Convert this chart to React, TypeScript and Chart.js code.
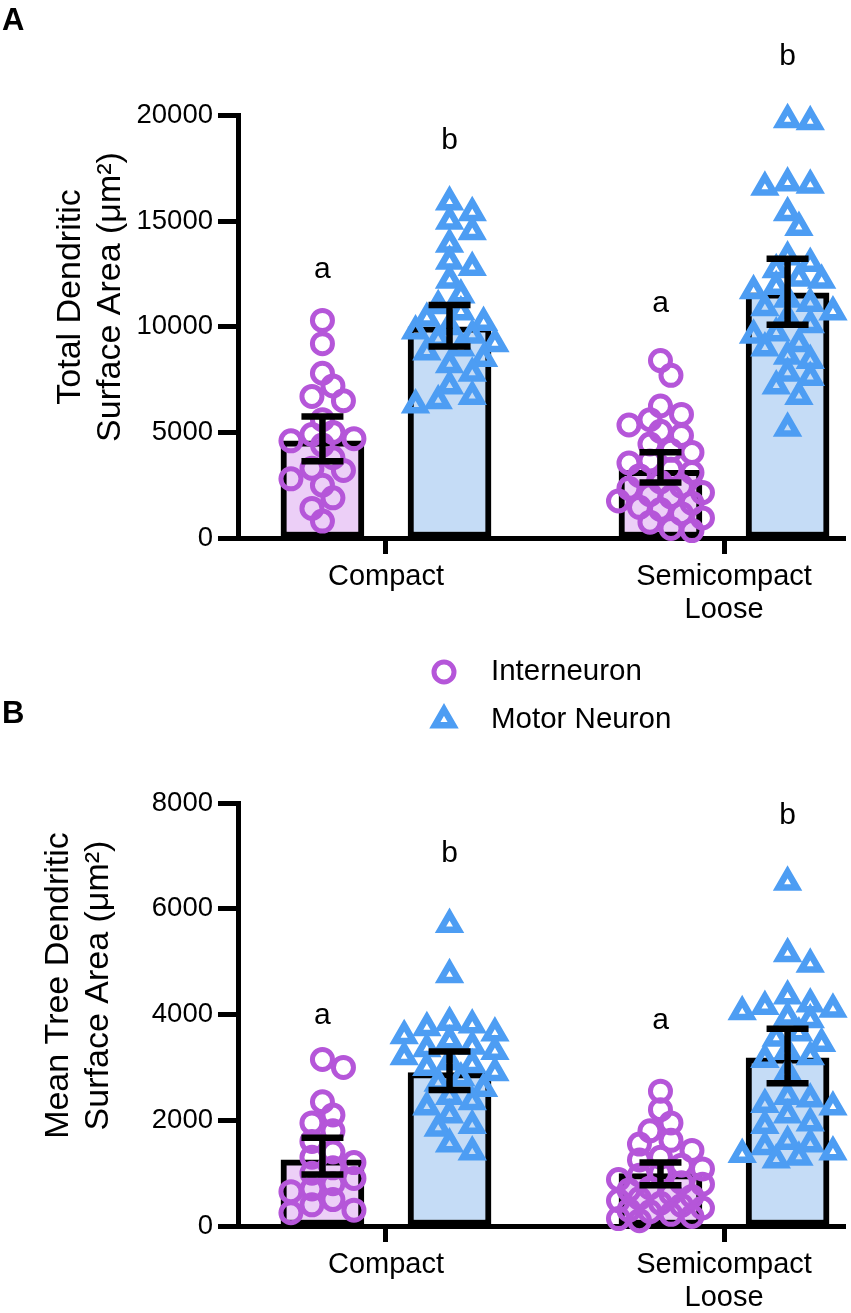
import React, { useEffect, useRef } from 'react';
import { Chart, registerables } from 'chart.js';

Chart.register(...registerables);

const FONT = "'Liberation Sans', Arial, Helvetica, sans-serif";
Chart.defaults.font.family = FONT;
Chart.defaults.color = '#000';

const PURPLE = '#B556D9';
const BLUE = '#4D9DF3';
const PURPLE_FILL = '#ECCFF7';
const BLUE_FILL = '#C5DCF6';

// ---------- shared categories ----------
const categories = ['Compact', 'Semicompact Loose'];
const categoryLabelLines = [['Compact'], ['Semicompact', 'Loose']];
const categoryPositions = [1, 2];
const seriesNames = ['Interneuron', 'Motor Neuron'];

// ---------- Panel A: Total Dendritic Surface Area ----------
const yTicksA = [0, 5000, 10000, 15000, 20000];
const totalInterCompact = [10300, 9200, 7800, 7200, 6700, 6500, 5600, 5000, 4900, 4700, 4600, 4400, 3800, 3300, 3200, 2800, 2500, 1900, 1400, 800];
const totalMotorCompact = [15900, 15400, 15000, 14500, 13900, 13100, 12800, 12200, 11500, 11000, 10700, 10400, 10200, 10000, 9800, 9600, 9400, 9200, 9000, 8800, 8500, 8200, 7800, 7200, 6700, 6500, 6300];
const totalInterSemi = [8400, 7700, 6250, 5850, 5600, 5350, 5050, 4850, 4450, 4150, 4050, 3650, 3550, 3250, 3100, 2950, 2650, 2450, 2350, 2150, 2050, 1950, 1750, 1650, 1450, 1350, 1150, 950, 750, 450, 350];
const totalMotorSemi = [19800, 19700, 16800, 16700, 16600, 15400, 14700, 13300, 13000, 12700, 12300, 12200, 11900, 11700, 11300, 11100, 10900, 10700, 10400, 10100, 9700, 9600, 9200, 9000, 8600, 8400, 7800, 7600, 7200, 6700, 5200];
const totalInterBar = [4600, 3200];
const totalMotorBar = [10000, 11600];
const totalInterErrLow = [3630, 2630];
const totalInterErrHigh = [5750, 4060];
const totalMotorErrLow = [9070, 10100];
const totalMotorErrHigh = [11030, 13220];
const totalLetters = ['a', 'b', 'a', 'b'];
const totalLetterY = [12700, 18800, 11100, 22800];

// ---------- Panel B: Mean Tree Dendritic Surface Area ----------
const yTicksB = [0, 2000, 4000, 6000, 8000];
const meanInterCompact = [3150, 3000, 2350, 2100, 1950, 1800, 1600, 1400, 1300, 1200, 1100, 1000, 900, 800, 700, 650, 500, 400, 300, 250];
const meanMotorCompact = [5700, 4750, 3850, 3800, 3750, 3650, 3600, 3500, 3400, 3350, 3300, 3200, 3100, 3050, 3000, 2900, 2800, 2700, 2600, 2450, 2350, 2250, 2100, 1900, 1850, 1550, 1400];
const meanInterSemi = [2550, 2200, 1950, 1800, 1620, 1550, 1430, 1300, 1250, 1150, 1080, 1000, 960, 880, 820, 790, 720, 680, 610, 560, 520, 480, 430, 390, 340, 300, 270, 220, 180, 140, 100];
const meanMotorSemi = [6500, 5150, 4950, 4350, 4200, 4150, 4100, 4050, 3950, 3900, 3650, 3550, 3450, 3300, 3200, 3150, 2900, 2450, 2400, 2300, 2250, 2100, 1950, 1900, 1600, 1550, 1500, 1400, 1350, 1300, 1250];
const meanInterBar = [1250, 990];
const meanMotorBar = [2900, 3180];
const meanInterErrLow = [975, 770];
const meanInterErrHigh = [1670, 1200];
const meanMotorErrLow = [2570, 2700];
const meanMotorErrHigh = [3300, 3730];
const meanLetters = ['a', 'b', 'a', 'b'];
const meanLetterY = [3980, 7040, 3875, 7750];

// ---------- layout constants ----------
const W = 851;
const X_MIN = 0.5622;
const X_MAX = 2.3579;
const PX_PER_X = 338;
const GROUP_OFFSET = 0.188;

function swarmOffsets(values: number[], pxPerY: number, diam: number): number[] {
  const placed: { x: number; y: number }[] = [];
  const out: number[] = [];
  const step = diam * 0.42;
  const cands = [0, 1, -1, 2, -2, 3, -3, 4, -4];
  for (const v of values) {
    const y = v * pxPerY;
    let best = 0;
    let bestD = -1;
    for (const k of cands) {
      const x = k * step;
      let minD = Infinity;
      for (const p of placed) {
        const d = Math.hypot(p.x - x, p.y - y);
        if (d < minD) minD = d;
      }
      if (minD >= diam * 0.6) { best = x; break; }
      if (minD > bestD) { bestD = minD; best = x; }
    }
    placed.push({ x: best, y });
    out.push(best);
  }
  return out;
}

type Spec = {
  key: string;
  height: number;
  padTop: number;
  plotBottom: number;
  yMax: number;
  yTicks: number[];
  inter: number[][];
  motor: number[][];
  interBar: number[];
  motorBar: number[];
  interLow: number[];
  interHigh: number[];
  motorLow: number[];
  motorHigh: number[];
  letters: string[];
  letterY: number[];
  title: string[];
  titleBaselines: number[];
  titleCenterY: number;
  panelLetter: string;
  panelLetterY: number;
  legend: boolean;
};

const TRI_R = 10.5;
const TRI_BW = 6.5;
const CIRC_R = 10;
const CIRC_BW = 5;

function buildConfig(s: Spec): any {
  const plotH = s.plotBottom - s.padTop;
  const pxPerY = plotH / s.yMax;
  const interX = categoryPositions.map((p) => p - GROUP_OFFSET);
  const motorX = categoryPositions.map((p) => p + GROUP_OFFSET);
  const pts = (vals: number[], cx: number, diam: number) => {
    const offs = swarmOffsets(vals, pxPerY, diam);
    return vals.map((v, i) => ({ x: cx + offs[i] / PX_PER_X, y: v }));
  };
  const interPts = [...pts(s.inter[0], interX[0], 25), ...pts(s.inter[1], interX[1], 25)];
  const motorPts = [...pts(s.motor[0], motorX[0], 27), ...pts(s.motor[1], motorX[1], 27)];

  const overlay = {
    id: 'overlay' + s.key,
    afterDatasetsDraw(chart: any) {
      const { ctx } = chart;
      const x = chart.scales.x;
      const y = chart.scales.y;
      ctx.save();
      ctx.strokeStyle = '#000';
      ctx.lineWidth = 6.5;
      ctx.lineCap = 'butt';
      const groups = [
        { cx: interX[0], lo: s.interLow[0], hi: s.interHigh[0] },
        { cx: motorX[0], lo: s.motorLow[0], hi: s.motorHigh[0] },
        { cx: interX[1], lo: s.interLow[1], hi: s.interHigh[1] },
        { cx: motorX[1], lo: s.motorLow[1], hi: s.motorHigh[1] },
      ];
      for (const g of groups) {
        const px = x.getPixelForValue(g.cx);
        const yl = y.getPixelForValue(g.lo);
        const yh = y.getPixelForValue(g.hi);
        ctx.beginPath();
        ctx.moveTo(px, yl);
        ctx.lineTo(px, yh);
        ctx.moveTo(px - 21, yl);
        ctx.lineTo(px + 21, yl);
        ctx.moveTo(px - 21, yh);
        ctx.lineTo(px + 21, yh);
        ctx.stroke();
      }
      const letterX = [interX[0], motorX[0], interX[1], motorX[1]];
      ctx.fillStyle = '#000';
      ctx.font = `30px ${FONT}`;
      ctx.textAlign = 'center';
      ctx.textBaseline = 'middle';
      s.letters.forEach((t, i) => {
        ctx.fillText(t, x.getPixelForValue(letterX[i]), y.getPixelForValue(s.letterY[i]));
      });
      ctx.restore();
    },
    afterDraw(chart: any) {
      const { ctx } = chart;
      ctx.save();
      ctx.fillStyle = '#000';
      ctx.font = `34px ${FONT}`;
      ctx.textAlign = 'center';
      ctx.textBaseline = 'alphabetic';
      s.title.forEach((line, i) => {
        ctx.save();
        ctx.translate(s.titleBaselines[i], s.titleCenterY);
        ctx.rotate(-Math.PI / 2);
        ctx.fillText(line, 0, 0);
        ctx.restore();
      });
      ctx.font = `bold 31px ${FONT}`;
      ctx.textAlign = 'left';
      ctx.textBaseline = 'middle';
      ctx.fillText(s.panelLetter, 2, s.panelLetterY);
      if (s.legend) {
        const lx = 444;
        const ly = [32, 80];
        ctx.lineWidth = CIRC_BW;
        ctx.strokeStyle = PURPLE;
        ctx.beginPath();
        ctx.arc(lx, ly[0], CIRC_R, 0, Math.PI * 2);
        ctx.stroke();
        const r = TRI_R;
        ctx.strokeStyle = BLUE;
        ctx.lineWidth = TRI_BW;
        ctx.beginPath();
        ctx.moveTo(lx, ly[1] - r);
        ctx.lineTo(lx + 0.866 * r, ly[1] + 0.5 * r);
        ctx.lineTo(lx - 0.866 * r, ly[1] + 0.5 * r);
        ctx.closePath();
        ctx.stroke();
        ctx.fillStyle = '#000';
        ctx.font = `29.5px ${FONT}`;
        ctx.textAlign = 'left';
        ctx.textBaseline = 'middle';
        ctx.fillText(seriesNames[0], 491, ly[0]);
        ctx.fillText(seriesNames[1], 491, ly[1]);
      }
      ctx.restore();
    },
  };

  return {
    type: 'bar',
    data: {
      datasets: [
        {
          type: 'scatter',
          label: seriesNames[0],
          data: interPts,
          pointStyle: 'circle',
          pointRadius: CIRC_R,
          pointHoverRadius: CIRC_R,
          pointBorderWidth: CIRC_BW,
          borderColor: PURPLE,
          backgroundColor: 'rgba(0,0,0,0)',
          clip: false,
          order: 1,
        },
        {
          type: 'scatter',
          label: seriesNames[1],
          data: motorPts,
          pointStyle: 'triangle',
          pointRadius: TRI_R,
          pointHoverRadius: TRI_R,
          pointBorderWidth: TRI_BW,
          borderColor: BLUE,
          backgroundColor: 'rgba(0,0,0,0)',
          clip: false,
          order: 0,
        },
        {
          type: 'bar',
          label: seriesNames[0] + ' mean',
          data: interX.map((xv, i) => ({ x: xv, y: s.interBar[i] })),
          backgroundColor: PURPLE_FILL,
          borderColor: '#000',
          borderWidth: 6,
          borderSkipped: false,
          barThickness: 83,
          grouped: false,
          order: 3,
        },
        {
          type: 'bar',
          label: seriesNames[1] + ' mean',
          data: motorX.map((xv, i) => ({ x: xv, y: s.motorBar[i] })),
          backgroundColor: BLUE_FILL,
          borderColor: '#000',
          borderWidth: 6,
          borderSkipped: false,
          barThickness: 83,
          grouped: false,
          order: 3,
        },
      ],
    },
    options: {
      responsive: false,
      maintainAspectRatio: false,
      animation: false,
      events: [],
      layout: { autoPadding: false, padding: { top: s.padTop, right: W - 845, left: 0, bottom: 0 } },
      plugins: { legend: { display: false }, tooltip: { enabled: false } },
      scales: {
        x: {
          type: 'linear',
          offset: false,
          min: X_MIN,
          max: X_MAX,
          afterBuildTicks: (scale: any) => {
            scale.ticks = categoryPositions.map((v) => ({ value: v }));
          },
          afterFit: (scale: any) => {
            scale.height = s.height - s.plotBottom;
            scale.paddingLeft = 0;
            scale.paddingRight = 0;
          },
          ticks: {
            autoSkip: false,
            maxRotation: 0,
            padding: 6,
            color: '#000',
            font: { size: 29, family: FONT, lineHeight: 1.15 },
            callback: (value: number) => {
              const i = categoryPositions.indexOf(value);
              return i >= 0 ? categoryLabelLines[i] : '';
            },
          },
          grid: { offset: false, drawOnChartArea: false, drawTicks: true, tickLength: 16, tickWidth: 5, tickColor: '#000' },
          border: { display: true, color: '#000', width: 5 },
        },
        y: {
          type: 'linear',
          min: 0,
          max: s.yMax,
          afterBuildTicks: (scale: any) => {
            scale.ticks = s.yTicks.map((v) => ({ value: v }));
          },
          afterFit: (scale: any) => {
            scale.width = 238;
          },
          ticks: {
            autoSkip: false,
            padding: 5,
            color: '#000',
            font: { size: 27.5, family: FONT },
            callback: (value: number) => String(value),
          },
          grid: { drawOnChartArea: false, drawTicks: true, tickLength: 20, tickWidth: 5, tickColor: '#000' },
          border: { display: true, color: '#000', width: 5 },
        },
      },
    },
    plugins: [overlay],
  };
}

const specA: Spec = {
  key: 'A',
  height: 640,
  padTop: 115.5,
  plotBottom: 538,
  yMax: 20000,
  yTicks: yTicksA,
  inter: [totalInterCompact, totalInterSemi],
  motor: [totalMotorCompact, totalMotorSemi],
  interBar: totalInterBar,
  motorBar: totalMotorBar,
  interLow: totalInterErrLow,
  interHigh: totalInterErrHigh,
  motorLow: totalMotorErrLow,
  motorHigh: totalMotorErrHigh,
  letters: totalLetters,
  letterY: totalLetterY,
  title: ['Total Dendritic', 'Surface Area (μm²)'],
  titleBaselines: [80, 120],
  titleCenterY: 297,
  panelLetter: 'A',
  panelLetterY: 21,
  legend: false,
};

const specB: Spec = {
  key: 'B',
  height: 673,
  padTop: 163,
  plotBottom: 586,
  yMax: 8000,
  yTicks: yTicksB,
  inter: [meanInterCompact, meanInterSemi],
  motor: [meanMotorCompact, meanMotorSemi],
  interBar: meanInterBar,
  motorBar: meanMotorBar,
  interLow: meanInterErrLow,
  interHigh: meanInterErrHigh,
  motorLow: meanMotorErrLow,
  motorHigh: meanMotorErrHigh,
  letters: meanLetters,
  letterY: meanLetterY,
  title: ['Mean Tree Dendritic', 'Surface Area (μm²)'],
  titleBaselines: [68, 108],
  titleCenterY: 345.5,
  panelLetter: 'B',
  panelLetterY: 74,
  legend: true,
};

function Panel({ spec, top }: { spec: Spec; top: number }) {
  const ref = useRef<HTMLCanvasElement>(null);
  useEffect(() => {
    if (!ref.current) return;
    const chart = new Chart(ref.current, buildConfig(spec));
    return () => chart.destroy();
  }, [spec]);
  return (
    <canvas
      ref={ref}
      width={W}
      height={spec.height}
      style={{ position: 'absolute', left: 0, top, width: W, height: spec.height }}
    />
  );
}

export default function App() {
  return (
    <div
      style={{ position: 'absolute', left: 0, top: 0, width: W, height: 1313, background: '#fff', overflow: 'hidden' }}
      aria-label={`Bar charts comparing ${categories.join(' and ')} groups`}
    >
      <Panel spec={specA} top={0} />
      <Panel spec={specB} top={640} />
    </div>
  );
}
